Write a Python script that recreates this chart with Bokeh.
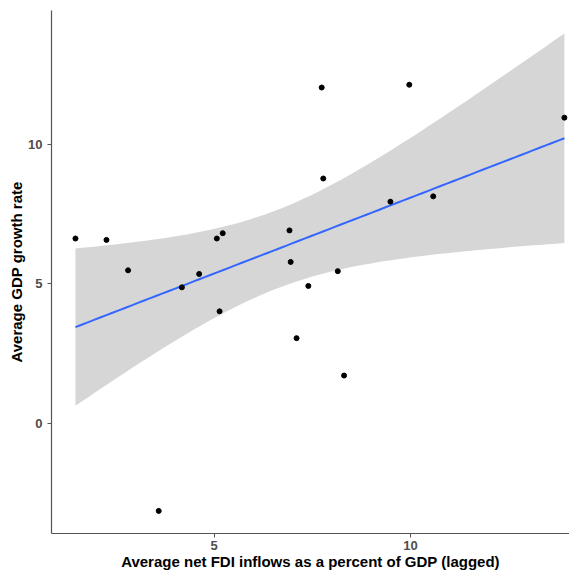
import numpy as np
from bokeh.plotting import figure
from bokeh.models import Range1d, FixedTicker
from bokeh.embed import file_html
from bokeh.resources import INLINE

# FDI inflows (% of GDP, lagged) and GDP growth rate
fdi = [1.47, 2.26, 2.81, 4.18, 4.62, 5.07, 5.22, 6.92, 6.95, 8.15, 7.40,
       7.74, 7.78, 9.97, 13.92, 9.49, 10.58, 5.14, 7.10, 8.31, 3.59]
gdp = [6.62, 6.57, 5.48, 4.87, 5.35, 6.62, 6.81, 6.91, 5.78, 5.45, 4.92,
       12.03, 8.77, 12.13, 10.95, 7.94, 8.13, 4.01, 3.05, 1.71, -3.14]

x_ticks = [5, 10]
y_ticks = [0, 5, 10]

# linear fit with 95% confidence band (as geom_smooth(method="lm"))
x = np.array(fdi)
y = np.array(gdp)
n = len(x)
b1, b0 = np.polyfit(x, y, 1)
resid = y - (b0 + b1 * x)
s = np.sqrt(np.sum(resid ** 2) / (n - 2))
sxx = np.sum((x - x.mean()) ** 2)
t_crit = 2.093  # t(0.975, df=19)
xs = np.linspace(x.min(), x.max(), 80)
fit = b0 + b1 * xs
se = s * np.sqrt(1.0 / n + (xs - x.mean()) ** 2 / sxx)
upper = fit + t_crit * se
lower = fit - t_crit * se

p = figure(frame_width=518, frame_height=523, output_backend="svg",
           toolbar_location=None, x_range=Range1d(0.86, 14.05),
           y_range=Range1d(-3.95, 14.79),
           min_border_left=51, min_border_right=0, min_border_top=10,
           min_border_bottom=30)
p.outline_line_color = None
p.xgrid.visible = False
p.ygrid.visible = False
p.background_fill_color = "white"

p.varea(x=xs, y1=lower, y2=upper, fill_color="#D6D6D6", fill_alpha=1.0)
p.line(xs, fit, line_color="#3366FF", line_width=2)
p.scatter(fdi, gdp, size=5, fill_color="black", line_color="black")

p.xaxis.ticker = FixedTicker(ticks=x_ticks)
p.yaxis.ticker = FixedTicker(ticks=y_ticks)
p.xaxis.axis_label = "Average net FDI inflows as a percent of GDP (lagged)"
p.yaxis.axis_label = "Average GDP growth rate"

for ax in (p.xaxis[0], p.yaxis[0]):
    ax.axis_line_color = "#555555"
    ax.axis_line_width = 1.2
    ax.major_tick_line_color = "#555555"
    ax.major_tick_out = 4
    ax.major_tick_in = 0
    ax.minor_tick_line_color = None
    ax.major_label_text_font = "Liberation Sans"
    ax.major_label_text_font_style = "bold"
    ax.major_label_text_font_size = "13px"
    ax.major_label_text_color = "#4D4D4D"
    ax.axis_label_text_font = "Liberation Sans"
    ax.axis_label_text_font_style = "bold"
    ax.axis_label_text_font_size = "15px"
    ax.axis_label_text_color = "black"

p.xaxis[0].major_label_standoff = 3
p.xaxis[0].axis_label_standoff = 0
p.yaxis[0].major_label_standoff = 5
p.yaxis[0].axis_label_standoff = 0

open("out.html", "w").write(file_html(p, INLINE))
